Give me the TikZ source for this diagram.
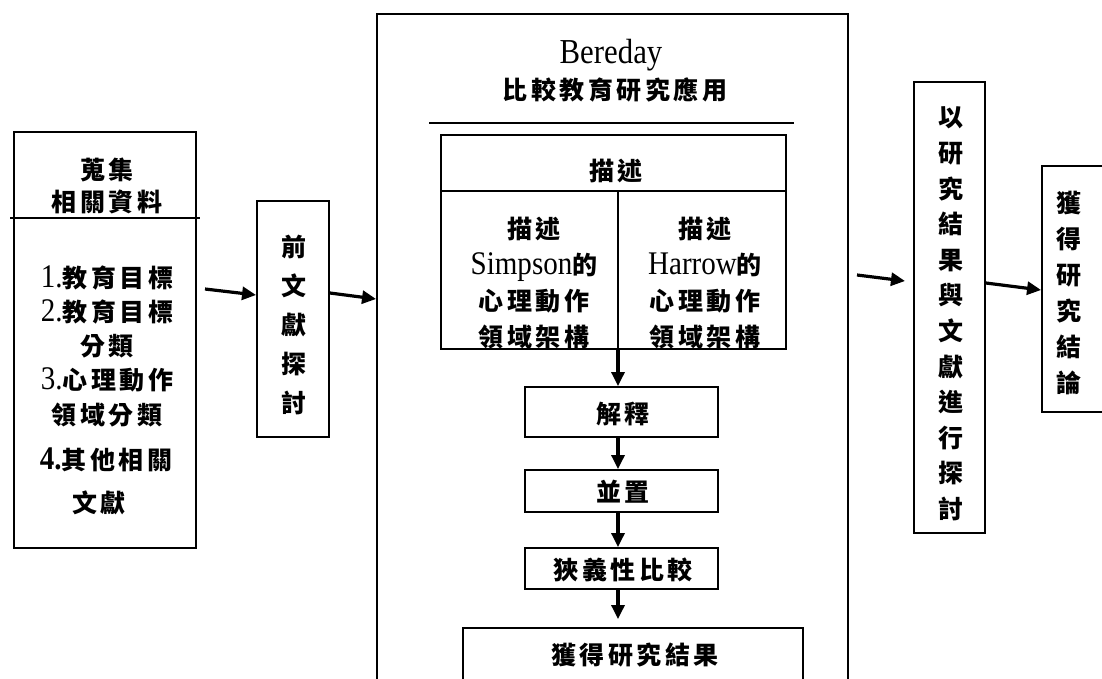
\documentclass[tikz,border=0pt]{standalone}
\usepackage{fontspec}
\setmainfont{Liberation Serif}
\newfontfamily\cjk{Noto Sans CJK TC}[LetterSpace=14]
\newfontfamily\lat{Liberation Serif}[FakeStretch=0.88]
\usetikzlibrary{arrows.meta}
\newcommand{\latn}[1]{{\lat\mdseries\fontsize{33}{33}\selectfont #1}}
\begin{document}
\begin{tikzpicture}[x=1pt,y=-1pt,
  boxline/.style={draw=black, line width=1.9pt, inner sep=0pt},
  rule/.style={draw=black, line width=1.7pt},
  arr/.style={draw=black, line width=3.2pt, -{Triangle[length=14pt,width=13pt]}},
  cjkt/.style={font=\cjk\bfseries\fontsize{25}{30}\selectfont, align=center, inner sep=0pt},
  cjkv/.style={font=\cjk\bfseries\fontsize{25}{#1}\selectfont, align=center, inner sep=0pt},
  latt/.style={font=\lat\fontsize{35}{38}\selectfont, inner sep=0pt}]
\useasboundingbox (0,0) rectangle (1102,678);
\clip (0,0) rectangle (1102,678);

% left box
\node[boxline, minimum width=182pt, minimum height=416pt] (collect) at (105,340) {};
\draw[rule] (10,218) -- (200,218);
\node[cjkt] (ct1) at (107,170) {蒐集};
\node[cjkt] (ct2) at (107,202) {相關資料};
\node[cjkv=34.3] (list) at (107,346)
  {\latn{1.}教育目標\\\latn{2.}教育目標\\分類\\\latn{3.}心理動作\\領域分類};
\node[cjkt] (l4) at (106,460) {{\lat\bfseries\fontsize{33}{33}\selectfont 4.}其他相關};
\node[cjkt] (l5) at (99,503) {文獻};

% pre box
\node[boxline, minimum width=72pt, minimum height=236pt] (pre) at (293,319) {};
\node[cjkv=38.8] (pret) at (294,325) {前\\文\\獻\\探\\討};

% big box
\node[boxline, minimum width=471pt, minimum height=706pt] (big) at (612.5,367) {};
\node[latt] (bere) at (611,55) {Bereday};
\node[cjkt] (bt) at (615,90) {比較教育研究應用};
\draw[rule] (429,123) -- (794,123);

% describe table
\node[boxline, minimum width=345pt, minimum height=214pt] (desc) at (613.5,242) {};
\draw[rule] (desc.west |- 0,191) -- (desc.east |- 0,191);
\coordinate (divt) at (618,191);
\coordinate (divb) at (618,349);
\draw[rule] (divt) -- (divb);
\node[cjkt] (dh) at (616,171) {描述};
\node[cjkv=36] (dl) at (534,283)
  {描述\\\latn{Simpson}的\\心理動作\\領域架構};
\node[cjkv=36] (dr) at (705,283)
  {描述\\\latn{Harrow}的\\心理動作\\領域架構};

% steps
\node[boxline, minimum width=193pt, minimum height=50pt] (js) at (621.5,412) {};
\node[cjkt] (jst) at (623,414) {解釋};
\node[boxline, minimum width=193pt, minimum height=42pt] (bz) at (621.5,491) {};
\node[cjkt] (bzt) at (623,492) {並置};
\node[boxline, minimum width=193pt, minimum height=41pt] (xy) at (621.5,568.5) {};
\node[cjkt] (xyt) at (623,570) {狹義性比較};
\node[boxline, minimum width=340pt, minimum height=80pt] (res) at (633,668) {};
\node[cjkt] (rest) at (635,655) {獲得研究結果};

\draw[arr] (divb) -- (divb |- js.north);
\draw[arr] (js.south -| divb) -- (divb |- bz.north);
\draw[arr] (bz.south -| divb) -- (divb |- xy.north);
\draw[arr, shorten >=8pt] (xy.south -| divb) -- (divb |- res.north);

% right boxes
\node[boxline, minimum width=71pt, minimum height=451pt] (disc) at (949.5,307.5) {};
\node[cjkv=35.6] (disct) at (951,314) {以\\研\\究\\結\\果\\與\\文\\獻\\進\\行\\探\\討};
\node[boxline, minimum width=62pt, minimum height=246pt] (conc) at (1073,289) {};
\node[cjkv=36] (conct) at (1069,293) {獲\\得\\研\\究\\結\\論};

% arrows between columns
\coordinate (s1) at (205,289);
\coordinate (t1) at (0,295);
\draw[arr] (s1) -- (pre.west |- t1);
\coordinate (s2) at (0,293);
\coordinate (t2) at (0,299);
\draw[arr] (pre.east |- s2) -- (big.west |- t2);
\coordinate (s3) at (857,275);
\coordinate (t3) at (905,281);
\draw[arr] (s3) -- (t3);
\coordinate (s4) at (0,283);
\coordinate (t4) at (0,290);
\draw[arr] (disc.east |- s4) -- (conc.west |- t4);
\end{tikzpicture}
\end{document}
